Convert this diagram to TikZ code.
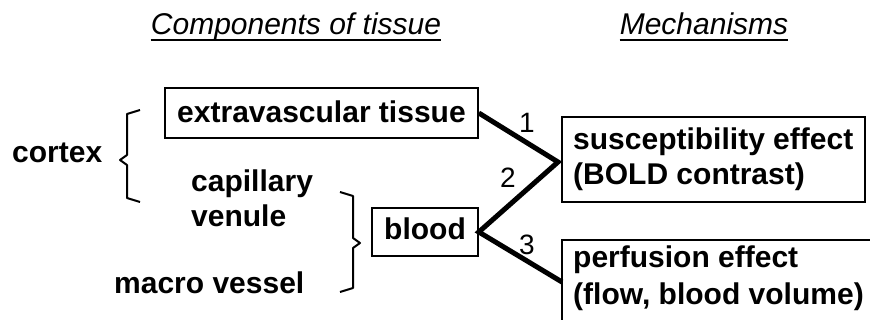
\documentclass[tikz,border=0pt]{standalone}
\usepackage{fontspec}
\setmainfont{Liberation Sans}
\begin{document}
\begin{tikzpicture}[x=1pt,y=-1pt,
  lbl/.style={font=\fontsize{30}{35}\selectfont\bfseries, inner sep=0pt, anchor=base west},
  head/.style={font=\fontsize{30}{35}\selectfont\itshape, inner sep=0pt, anchor=base},
  boxnode/.style={draw, line width=1.6pt, inner sep=0pt, font=\fontsize{30}{35}\selectfont\bfseries},
  link/.style={line width=5pt, line join=miter},
  num/.style={font=\fontsize{28}{30}\selectfont, inner sep=0pt},
  brace/.style={line width=2pt, line join=round}]
\clip (0,0) rectangle (870,320);
\fill[white] (0,0) rectangle (870,320);
% headings
\node[head] (h1) at (296,35) {Components of tissue};
\node[head] (h2) at (704,35) {Mechanisms};
\draw[line width=1.5pt] ([yshift=-5pt]h1.base west) -- ([yshift=-5pt]h1.base east);
\draw[line width=1.5pt] ([yshift=-5pt]h2.base west) -- ([yshift=-5pt]h2.base east);
% boxes
\node[boxnode, minimum width=313pt, minimum height=50pt, text height=20pt, text depth=0pt] (ext) at (321.5,113) {extravascular tissue};
\node[boxnode, minimum width=106pt, minimum height=48pt, text height=16pt, text depth=0pt] (blood) at (425,232) {blood};
\node[boxnode, minimum width=303pt, minimum height=85pt] (sus) at (713.5,159.5) {};
\node[lbl] (sus1) at (573,150) {susceptibility effect};
\node[lbl] (sus2) at (573,185) {(BOLD contrast)};
\node[boxnode, minimum width=320pt, minimum height=100pt] (per) at (722,290) {};
\node[lbl] (per1) at (573,268) {perfusion effect};
\node[lbl] (per2) at (573,305) {(flow, blood volume)};
% left labels
\node[lbl] (cortex) at (12,163) {cortex};
\node[lbl] (cap) at (191,192) {capillary};
\node[lbl] (ven) at (191,227) {venule};
\node[lbl] (mac) at (114,294) {macro vessel};
% braces
\draw[brace] (140,110) -- (127,114) -- (127,155) -- (120,160) -- (127,165) -- (127,198) -- (140,202);
\draw[brace] (340,192) -- (353,196) -- (353,238) -- (360,243) -- (353,248) -- (353,288) -- (340,292);
% connectors
\coordinate (j) at (558,162);
\coordinate (p3) at (562,282);
\draw[link] (ext.east) -- (j) -- (blood.east) -- (p3);
\node[num] (n1) at (527,123) {1};
\node[num] (n2) at (508,178) {2};
\node[num] (n3) at (527,245) {3};
\end{tikzpicture}
\end{document}
